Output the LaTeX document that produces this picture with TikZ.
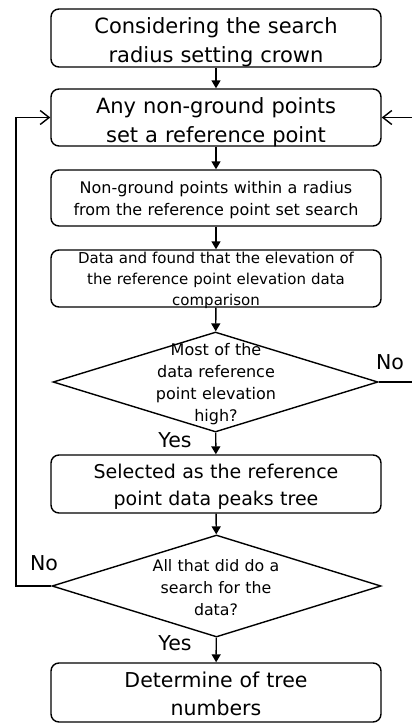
\documentclass[tikz,border=0pt]{standalone}
\usepackage{fontspec}
\setmainfont{DejaVu Sans}
\usetikzlibrary{shapes.geometric,arrows.meta}
\begin{document}
\begin{tikzpicture}[x=1pt,y=-1pt,
  box/.style={draw,line width=1.4pt,rounded corners=8pt,minimum width=330pt,inner sep=0pt},
  decision/.style={draw,diamond,line width=1.4pt,inner sep=0pt},
  txt/.style={anchor=base,align=center,text width=330pt,inner sep=0pt},
  lbl/.style={inner sep=0pt,font=\fontsize{20.5}{25}\selectfont},
  flow/.style={line width=1.4pt,-{Triangle[length=8pt,width=9pt]}},
  loop/.style={line width=1.4pt,-{Straight Barb[length=9pt,width=14pt,line width=1.4pt]}}
]
\clip (0,0) rectangle (412,724);
\fill[white] (0,0) rectangle (412,724);

% process boxes
\node[box,minimum height=58pt] (b1) at (216,38) {};
\node[box,minimum height=57pt] (b2) at (216,117.5) {};
\node[box,minimum height=56pt] (b3) at (216,198) {};
\node[box,minimum height=57pt] (b4) at (216,278.5) {};
\node[box,minimum height=58pt] (b5) at (216,484) {};
\node[box,minimum height=59pt] (b6) at (216,692.5) {};

% decisions
\node[decision,minimum width=325pt,minimum height=100pt] (d1) at (215.5,382) {};
\node[decision,minimum width=329pt,minimum height=102pt] (d2) at (216.5,586) {};

% texts
\node[txt,font=\fontsize{21}{29}\selectfont] (t1) at (216,33) {Considering the search\\radius setting crown};
\node[txt,font=\fontsize{21}{29}\selectfont] (t2) at (216,113) {Any non-ground points\\set a reference point};
\node[txt,font=\fontsize{16}{22}\selectfont] (t3) at (216,193) {Non-ground points within a radius\\from the reference point set search};
\node[txt,font=\fontsize{15}{21}\selectfont] (t4) at (216,263) {Data and found that the elevation of\\the reference point elevation data\\comparison};
\node[txt,font=\fontsize{16}{22}\selectfont] (t5) at (216,355) {Most of the\\data reference\\point elevation\\high?};
\node[txt,font=\fontsize{19}{27}\selectfont] (t6) at (216,478) {Selected as the reference\\point data peaks tree};
\node[txt,font=\fontsize{15.8}{22}\selectfont] (t7) at (216,571) {All that did do a\\search for the\\data?};
\node[txt,font=\fontsize{20.5}{28}\selectfont] (t8) at (216,687) {Determine of tree\\numbers};

% branch labels
\node[lbl] (no1) at (390,362) {No};
\node[lbl] (yes1) at (175,440) {Yes};
\node[lbl] (no2) at (44,563) {No};
\node[lbl] (yes2) at (175,643) {Yes};

% main flow
\draw[flow] (b1) -- (b2);
\draw[flow] (b2) -- (b3);
\draw[flow] (b3) -- (b4);
\draw[flow] (b4) -- (d1);
\draw[flow] (d1) -- (b5);
\draw[flow] (b5) -- (d2);
\draw[flow] (d2) -- (b6);

% return paths
\coordinate (rgt) at (418,0);
\coordinate (lft) at (16,0);
\draw[loop] (d1.east) -- (d1.east -| rgt) |- (b2.east);
\draw[loop] (d2.west) -- (d2.west -| lft) |- (b2.west);
\end{tikzpicture}
\end{document}
